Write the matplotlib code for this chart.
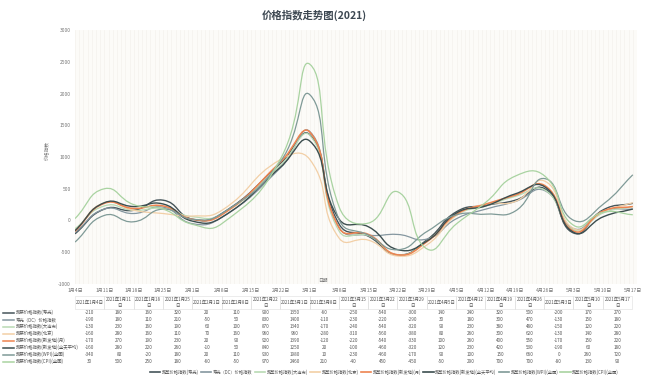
import numpy as np
import pandas as pd
import matplotlib
matplotlib.use('Agg')
import matplotlib.pyplot as plt
import matplotlib.dates as mdates
from matplotlib.path import Path
from matplotlib.patches import PathPatch, Rectangle
from matplotlib.lines import Line2D

plt.rcParams['font.family'] = ['Noto Sans CJK SC', 'DejaVu Sans']

# weekly data, 2021-02-15 (spring festival) has no data
dates = ['2021-01-04', '2021-01-11', '2021-01-18', '2021-01-25', '2021-02-01',
         '2021-02-08', '2021-02-22', '2021-03-01', '2021-03-08', '2021-03-15',
         '2021-03-22', '2021-03-29', '2021-04-05', '2021-04-12', '2021-04-19',
         '2021-04-26', '2021-05-03', '2021-05-10', '2021-05-17']

names = ['蔬菜价格指数(寿光)', '寿光（DC）价格指数', '蔬菜价格指数(大连市)', '蔬菜价格指数(北京)',
         '蔬菜价格指数(新发地)(月)', '蔬菜价格指数(新发地)(全天平均)', '蔬菜价格指数(WPI)(全国)',
         '蔬菜价格指数(CPI)(全国)']

shouguang = [-210, 180, 160, 320, 20, 110, 900, 1350, -60, -250, -540, -300, 140, 240, 320, 500, -200, 170, 270]
shouguang_dc = [-190, 180, 110, 210, -50, 50, 830, 1400, -110, -230, -220, -290, 30, 180, 300, 470, -130, 150, 180]
dalian = [-130, 230, 160, 190, 60, 100, 870, 1340, -170, -240, -540, -320, 90, 230, 380, 480, -150, 120, 220]
beijing = [-160, 280, 160, 110, 70, 160, 960, 960, -280, -310, -560, -380, 80, 260, 300, 620, -130, 140, 280]
xinfadi_month = [-170, 270, 190, 230, 20, 90, 920, 1390, -120, -220, -540, -330, 100, 260, 400, 550, -170, 150, 220]
xinfadi_day = [-160, 280, 220, 260, -10, 50, 840, 1250, 20, -100, -460, -320, 120, 230, 420, 530, -190, 60, 180]
wpi = [-340, 80, -20, 180, 20, 110, 930, 1980, 10, -230, -460, -170, 90, 100, 150, 660, 0, 260, 720]
cpi = [30, 500, 250, 180, -60, -50, 970, 2460, 210, -40, 450, -450, -50, 290, 700, 700, -80, 130, 90]

all_series = [shouguang, shouguang_dc, dalian, beijing, xinfadi_month, xinfadi_day, wpi, cpi]
colors = ['#46555a', '#8597a0', '#b9dab4', '#f2cfa6', '#ee8450', '#3c4e4f', '#7f9a97', '#a9d3a1']
widths = [1.0, 0.9, 0.9, 0.9, 1.1, 1.0, 0.9, 0.9]

W, H = 647, 375
fig = plt.figure(figsize=(W / 100, H / 100), dpi=100)
fig.patch.set_facecolor('white')

# plot area in pixels: x 75..637, y 30..284
ax = fig.add_axes([75 / W, 1 - 284 / H, (637 - 75) / W, (284 - 30) / H])
x_start = mdates.date2num(pd.Timestamp('2021-01-04'))
ax.set_xlim(x_start, x_start + 134)
ax.set_ylim(-1000, 3000)
ax.set_facecolor('#fcfbf8')
for s in ax.spines.values():
    s.set_visible(False)

# faint daily stripes
for d in range(0, 135):
    ax.axvline(x_start + d, color='#f4f2ed', lw=0.5, zorder=0)

ax.set_yticks(np.arange(-1000, 3001, 500))
ax.set_yticklabels([str(v) for v in range(-1000, 3001, 500)])
ticks = pd.date_range('2021-01-04', '2021-05-17', freq='7D')
ax.set_xticks(mdates.date2num(ticks))
ax.set_xticklabels([f'{t.month}月{t.day}日' for t in ticks])
ax.tick_params(length=0, labelsize=3.6, colors='#777777', pad=3)


def smooth_path(xs, ys, smooth=0.5):
    # echarts-like smooth bezier, control points computed in pixel space
    pts = ax.transData.transform(np.column_stack([xs, ys]))
    n = len(pts)
    cps = []
    for i in range(n):
        prev = pts[i - 1] if i > 0 else pts[i]
        nxt = pts[i + 1] if i < n - 1 else pts[i]
        v = (nxt - prev) * smooth
        d0 = np.hypot(*(pts[i] - prev))
        d1 = np.hypot(*(nxt - pts[i]))
        tot = d0 + d1
        if tot:
            d0, d1 = d0 / tot, d1 / tot
        cps.append((pts[i] - v * d0, pts[i] + v * d1))
    verts = [pts[0]]
    codes = [Path.MOVETO]
    for i in range(n - 1):
        verts += [cps[i][1], cps[i + 1][0], pts[i + 1]]
        codes += [Path.CURVE4] * 3
    verts = ax.transData.inverted().transform(np.array(verts))
    return Path(verts, codes)


xs = mdates.date2num(pd.to_datetime(dates))
for vals, c, lw in zip(all_series, colors, widths):
    ax.add_patch(PathPatch(smooth_path(xs, vals), fill=False, ec=c, lw=lw, zorder=3))

fig.text(314 / W, 1 - 15 / H, '价格指数走势图(2021)', ha='center', va='center',
         fontsize=7.5, fontweight='bold', color='#3d4852')
fig.text(48 / W, 1 - 150 / H, '价格指数', rotation=90, ha='center', va='center',
         fontsize=3.4, color='#777777')
fig.text(323 / W, 1 - 280 / H, '日期', ha='center', va='center', fontsize=3.4, color='#777777')

# data table under the chart
cw = (632 - 75) / 19
head_top, head_bot, row_h = 296, 309, 7.0
for j, d in enumerate(pd.to_datetime(dates)):
    x0 = 75 + j * cw
    fig.add_artist(Rectangle((x0 / W, 1 - head_bot / H), cw / W, (head_bot - head_top) / H,
                             transform=fig.transFigure, fill=False, ec='#dddddd', lw=0.4))
    label = f'{d.year}年{d.month}月{d.day}日'
    if d.day >= 10:
        label = label[:-1] + '\n日'
    fig.text((x0 + cw / 2) / W, 1 - (head_top + head_bot) / 2 / H, label, ha='center', va='center',
             fontsize=3.2, color='#555555', linespacing=1.1)

for i, (name, vals, c) in enumerate(zip(names, all_series, colors)):
    yc = 1 - (head_bot + row_h * i + row_h / 2) / H
    fig.add_artist(Line2D([3 / W, 14 / W], [yc, yc], color=c, lw=1.1, transform=fig.transFigure))
    fig.text(16 / W, yc, name, ha='left', va='center', fontsize=3.2, color='#555555')
    for j, v in enumerate(vals):
        fig.text((75 + j * cw + cw / 2) / W, yc, str(v), ha='center', va='center',
                 fontsize=3.3, color='#555555')

handles = [Line2D([], [], color=c, lw=1.2) for c in colors]
fig.legend(handles, names, loc='center left', bbox_to_anchor=(150 / W, 1 - 372 / H), ncol=8,
           fontsize=3.1, frameon=False, handlelength=2.4, columnspacing=0.5, handletextpad=0.35,
           labelcolor='#555555', borderpad=0, borderaxespad=0)

fig.savefig('out.png', dpi=100)
